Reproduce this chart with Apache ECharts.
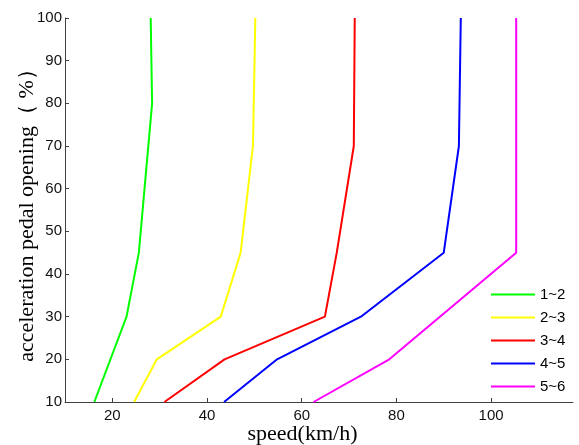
<!DOCTYPE html>
<html>
<head>
<meta charset="utf-8">
<script src="https://cdn.jsdelivr.net/npm/echarts@6/dist/echarts.min.js"></script>
<style>
  html, body { margin: 0; padding: 0; background: #fff; }
  #main { width: 579px; height: 445px; }
</style>
</head>
<body>
<div id="main"></div>
<script>
// pedal opening (%) vs shift speed (km/h)
const gearNames = ["1~2", "2~3", "3~4", "4~5", "5~6"];
const gearColors = ["#00ff00", "#ffff00", "#ff0000", "#0000ff", "#ff00ff"];

const opening12 = [10, 30, 45, 80, 100];
const speed12 = [16.2, 23.0, 25.6, 28.4, 28.1];

const opening23 = [10, 20, 30, 45, 70, 100];
const speed23 = [24.6, 29.4, 42.9, 47.1, 49.7, 50.2];

const opening34 = [10, 20, 30, 45, 70, 100];
const speed34 = [31.0, 43.7, 64.9, 67.4, 71.0, 71.2];

const opening45 = [10, 20, 30, 45, 70, 100];
const speed45 = [43.6, 54.8, 72.5, 90.0, 93.2, 93.6];

const opening56 = [10, 20, 45, 100];
const speed56 = [62.5, 78.5, 105.3, 105.3];

const xTicks = [20, 40, 60, 80, 100];

const curves = [
  [speed12, opening12],
  [speed23, opening23],
  [speed34, opening34],
  [speed45, opening45],
  [speed56, opening56],
];

const sans = "Liberation Sans, Arial, sans-serif";
const serif = "Liberation Serif, Times New Roman, serif";

const myChart = echarts.init(document.getElementById("main"));
myChart.setOption({
  animation: false,
  grid: { left: 65, right: 6, top: 18, bottom: 43, outerBoundsMode: "none" },
  legend: {
    data: gearNames,
    orient: "vertical",
    left: 491,
    top: 287,
    padding: 0,
    icon: "rect",
    itemWidth: 44,
    itemHeight: 2,
    itemGap: 8,
    textStyle: { fontFamily: sans, fontSize: 15, lineHeight: 14, color: "#000" },
  },
  xAxis: {
    type: "value",
    min: 10,
    max: 117.3,
    name: "speed(km/h)",
    nameLocation: "middle",
    nameGap: 21,
    nameMoveOverlap: false,
    nameTextStyle: {
      fontFamily: serif,
      fontSize: 22,
      color: "#000",
      padding: [0, 33, 0, 0],
    },
    splitLine: { show: false },
    axisLine: { lineStyle: { color: "#404040", width: 1 } },
    axisTick: {
      inside: true,
      length: 4,
      customValues: xTicks,
      lineStyle: { color: "#404040" },
    },
    axisLabel: {
      customValues: xTicks,
      fontFamily: sans,
      fontSize: 15,
      color: "#111",
      margin: 6,
    },
  },
  yAxis: {
    type: "value",
    min: 10,
    max: 100,
    interval: 10,
    name: "acceleration pedal opening（ %）",
    nameLocation: "middle",
    nameGap: 27,
    nameMoveOverlap: false,
    nameTextStyle: { fontFamily: serif, fontSize: 22, color: "#000" },
    splitLine: { show: false },
    axisLine: { show: true, lineStyle: { color: "#404040", width: 1 } },
    axisTick: { show: true, inside: true, length: 4, lineStyle: { color: "#404040" } },
    axisLabel: { fontFamily: sans, fontSize: 15, color: "#111", margin: 3 },
  },
  series: curves.map(function (c, i) {
    return {
      name: gearNames[i],
      type: "line",
      symbol: "none",
      color: gearColors[i],
      lineStyle: { width: 2, color: gearColors[i] },
      data: c[0].map(function (s, k) {
        return [s, c[1][k]];
      }),
    };
  }),
});
</script>
</body>
</html>
